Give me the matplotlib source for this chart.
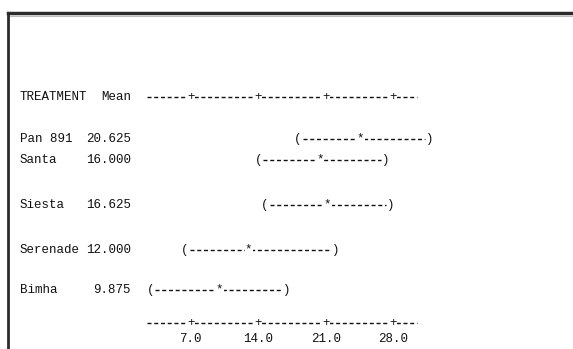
import numpy as np
import matplotlib.pyplot as plt
from matplotlib.lines import Line2D
from matplotlib.transforms import blended_transform_factory

# one-way ANOVA style output (Minitab text chart)
treatments = ["Pan 891", "Santa", "Siesta", "Serenade", "Bimha"]
mean_text = ["20.625", "16.000", "16.625", "12.000", "9.875"]
ci_low = [18.1, 14.0, 14.7, 6.4, 2.8]
ci_star = [24.6, 20.4, 21.2, 13.0, 10.0]
ci_high = [31.8, 27.2, 27.7, 22.0, 16.9]
ticks = [7.0, 14.0, 21.0, 28.0]
tick_labels = ["7.0", "14.0", "21.0", "28.0"]
axis_span = [2.5, 30.5]

# row layout (pixels from top)
row_y = [139, 160, 205, 250, 290]
head_y = 97
axis_y = 323
label_y = 339

W, H = 573, 349
px_per_unit = 9.65
v0 = 7.0 - 190.7 / px_per_unit

fig = plt.figure(figsize=(W / 100, H / 100), dpi=100)
ax = fig.add_axes([0, 0, 1, 1])
ax.set_xlim(v0, v0 + W / px_per_unit)
ax.set_ylim(H, 0)
ax.axis("off")

font = dict(family=["Liberation Mono", "DejaVu Sans Mono"], fontsize=9, color="#111111")
blend = blended_transform_factory(ax.transAxes, ax.transData)

# frame of the output window
fig.add_artist(Line2D([8 / W, 1], [1 - 13 / H, 1 - 13 / H], color="#2b2b2b", lw=2.5))
fig.add_artist(Line2D([9 / W, 1], [1 - 15.5 / H, 1 - 15.5 / H], color="#bbbbbb", lw=0.8))
fig.add_artist(Line2D([8 / W, 8 / W], [0, 1 - 13 / H], color="#2b2b2b", lw=2.0))

dash = dict(color="#111111", lw=1.0, dashes=(2.9, 1.95))

# header line
ax.text(20 / W, head_y, "TREATMENT", transform=blend, va="center", ha="left", **font)
ax.text(131 / W, head_y, "Mean", transform=blend, va="center", ha="right", **font)
for yy in [head_y, axis_y]:
    ax.plot(axis_span, [yy, yy], **dash)
    for t in ticks:
        ax.text(t, yy, "+", ha="center", va="center",
                bbox=dict(fc="white", ec="none", pad=0.2), **font)

for t, lab in zip(ticks, tick_labels):
    ax.text(t, label_y, lab, ha="center", va="center", **font)

# intervals
for name, m, lo, st, hi, y in zip(treatments, mean_text, ci_low, ci_star, ci_high, row_y):
    ax.text(20 / W, y, name, transform=blend, va="center", ha="left", **font)
    ax.text(131 / W, y, m, transform=blend, va="center", ha="right", **font)
    ax.plot([lo + 0.5, hi - 0.5], [y, y], **dash)
    ax.text(lo, y, "(", ha="center", va="center", **font)
    ax.text(hi, y, ")", ha="center", va="center", **font)
    ax.text(st, y - 1, "*", ha="center", va="center",
            bbox=dict(fc="white", ec="none", pad=0.2), **font)

fig.savefig("out.png", dpi=100, facecolor="white")
